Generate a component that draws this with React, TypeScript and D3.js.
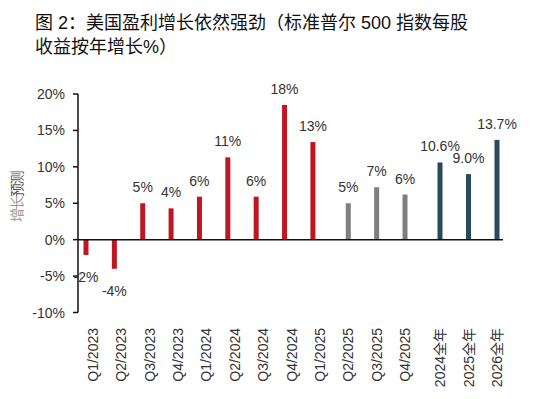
import React from "react";
import * as d3 from "d3";

const quarterLabels = ["Q1/2023","Q2/2023","Q3/2023","Q4/2023","Q1/2024","Q2/2024","Q3/2024","Q4/2024","Q1/2025","Q2/2025","Q3/2025","Q4/2025"];
const quarterValues = [-2.1, -4.0, 5.0, 4.3, 5.9, 11.3, 5.9, 18.5, 13.4, 5.0, 7.2, 6.2];
const quarterText = ["-2%","-4%","5%","4%","6%","11%","6%","18%","13%","5%","7%","6%"];
const quarterIsForecast = [false,false,false,false,false,false,false,false,false,true,true,true];
const annualLabels = ["2024全年","2025全年","2026全年"];
const annualValues = [10.6, 9.0, 13.7];
const annualText = ["10.6%","9.0%","13.7%"];
const yTicks = [-10, -5, 0, 5, 10, 15, 20];
const titleLines = ["图 2：美国盈利增长依然强劲（标准普尔 500 指数每股", "收益按年增长%）"];

const RED = "#BE1622";
const GRAY = "#7F7F7F";
const NAVY = "#294A5B";
const FONT = "'Liberation Sans', Arial, 'Noto Sans CJK SC', sans-serif";

export default function App() {
  const y = d3.scaleLinear().domain([-10, 20]).range([312.5, 94]);
  const xq = d3.scaleLinear().domain([0, quarterLabels.length - 1]).range([93, 405]);
  const xa = d3.scaleLinear().domain([0, annualLabels.length - 1]).range([440, 497]);
  const actualShift = -7;
  const bw = 5;
  const axisX = 78;

  const bars: { x: number; v: number; t: string; c: string }[] = [];
  quarterValues.forEach((v, i) => {
    const f = quarterIsForecast[i];
    bars.push({ x: xq(i) + (f ? 0 : actualShift), v, t: quarterText[i], c: f ? GRAY : RED });
  });
  annualValues.forEach((v, i) => bars.push({ x: xa(i), v, t: annualText[i], c: NAVY }));

  return (
    <svg width={538} height={399} style={{ position: "absolute", left: 0, top: 0, background: "#fff" }} fontFamily={FONT}>
      {titleLines.map((l, i) => (
        <text key={i} x={35} y={29 + i * 24} fontSize={18} fill="#111">{l}</text>
      ))}
      <line x1={axisX} x2={axisX} y1={y(20)} y2={y(-10)} stroke="#111" strokeWidth={1.5} />
      {yTicks.map((t) => (
        <g key={t}>
          <line x1={axisX - 5} x2={axisX} y1={y(t)} y2={y(t)} stroke="#111" strokeWidth={1.5} />
          <text x={65} y={y(t) + 5} fontSize={14} textAnchor="end" fill="#333">{t}%</text>
        </g>
      ))}
      <text transform={`translate(22,197) rotate(-90)`} fontSize={14} textAnchor="middle" letterSpacing={-1.5}>
        <tspan fill="#999">增长</tspan><tspan fill="#555">预测</tspan>
      </text>
      {bars.map((b, i) => (
        <g key={i}>
          <rect x={b.x - bw / 2} width={bw} y={Math.min(y(b.v), y(0))} height={Math.abs(y(b.v) - y(0))} fill={b.c} />
          <text x={b.x} y={b.v >= 0 ? y(b.v) - 11 : y(b.v) + 27} fontSize={14} textAnchor="middle" fill="#333">{b.t}</text>
        </g>
      ))}
      <line x1={axisX} x2={503} y1={y(0)} y2={y(0)} stroke="#111" strokeWidth={1.5} />
      {quarterLabels.map((l, i) => (
        <text key={l} transform={`translate(${xq(i) + 5},328) rotate(-90)`} fontSize={14} textAnchor="end" fill="#333">{l}</text>
      ))}
      {annualLabels.map((l, i) => (
        <text key={l} transform={`translate(${xa(i) + 5},328) rotate(-90)`} fontSize={14} textAnchor="end" fill="#333">{l}</text>
      ))}
    </svg>
  );
}
